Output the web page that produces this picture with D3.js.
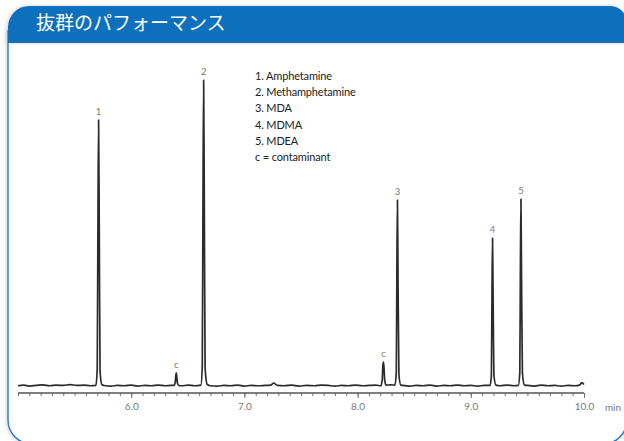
<!DOCTYPE html>
<html>
<head>
<meta charset="utf-8">
<script src="https://cdn.jsdelivr.net/npm/d3@7/dist/d3.min.js"></script>
<style>
  html, body { margin: 0; padding: 0; background: #ffffff; }
  svg { display: block; }
</style>
</head>
<body>
<svg id="chart" width="624" height="441"></svg>
<script>
// ---- Data ----------------------------------------------------------
const title = "抜群のパフォーマンス";

const legendItems = [
  "1. Amphetamine",
  "2. Methamphetamine",
  "3. MDA",
  "4. MDMA",
  "5. MDEA",
  "c = contaminant"
];

// Peak identities, retention times (min) and apex heights (relative signal)
const peakLabels = ["1", "c", "2", "c", "3", "4", "5"];
const peakTimes  = [5.712, 6.398, 6.640, 8.228, 8.352, 9.192, 9.443];
const peakHeights = [87.0, 4.6, 100, 8.1, 60.9, 48.5, 61.2];

// Baseline of the trace between peaks: [time (min), signal]
const baseline = [
  [5.00,0.4],[5.05,0.6],[5.10,0.3],[5.16,0.5],[5.22,0.7],[5.28,0.4],[5.34,0.6],
  [5.40,0.5],[5.46,0.8],[5.52,0.5],[5.58,0.6],[5.64,0.4],
  [5.76,0.5],[5.82,0.3],[5.88,0.5],[5.94,0.4],[6.00,0.6],[6.06,0.3],[6.12,0.5],
  [6.18,0.4],[6.24,0.6],[6.30,0.4],[6.35,0.5],
  [6.45,0.4],[6.50,0.6],[6.56,0.4],
  [6.70,0.4],[6.76,0.3],[6.82,0.5],[6.88,0.4],[6.94,0.6],[7.00,0.3],[7.06,0.5],
  [7.12,0.4],[7.18,0.5],[7.23,0.6],[7.26,1.3],[7.29,0.5],[7.35,0.4],[7.42,0.6],
  [7.48,0.3],[7.55,0.5],[7.62,0.4],[7.68,0.6],[7.74,0.5],[7.80,0.3],[7.86,0.5],
  [7.92,0.4],[7.98,0.6],[8.04,0.4],[8.10,0.5],[8.16,0.6],
  [8.29,0.7],
  [8.40,0.5],[8.46,0.3],[8.52,0.5],[8.58,0.4],[8.64,0.6],[8.70,0.3],[8.76,0.5],
  [8.82,0.4],[8.88,0.6],[8.94,0.4],[9.00,0.5],[9.06,0.3],[9.12,0.5],
  [9.26,0.4],[9.32,0.6],[9.38,0.4],
  [9.50,0.5],[9.56,0.3],[9.62,0.6],[9.68,0.4],[9.74,0.5],[9.80,0.3],[9.86,0.5],
  [9.92,0.4],[9.96,0.6],[9.98,1.4],[10.00,0.8]
];

// Sampled peak profiles: [time (min), signal]
const peakProfiles = [
  [[5.688,0.5],[5.700,6],[5.706,52],[5.712,87.0],[5.718,50],[5.725,5],[5.742,0.7]],
  [[6.378,0.5],[6.389,1.6],[6.394,3.8],[6.398,4.6],[6.402,3.6],[6.408,1.4],[6.420,0.5]],
  [[6.616,0.6],[6.628,7],[6.634,60],[6.640,100],[6.646,58],[6.653,6],[6.672,0.8]],
  [[8.206,0.4],[8.218,2.5],[8.223,6.8],[8.228,8.1],[8.233,6.5],[8.240,2.0],[8.252,0.6]],
  [[8.330,0.6],[8.342,5],[8.347,38],[8.352,60.9],[8.357,36],[8.365,4],[8.382,0.6]],
  [[9.170,0.5],[9.182,4],[9.187,30],[9.192,48.5],[9.197,29],[9.205,3.5],[9.222,0.6]],
  [[9.420,0.5],[9.433,5],[9.438,38],[9.443,61.2],[9.448,37],[9.456,4.5],[9.474,0.6]]
];

const majorTicks = [6.0, 7.0, 8.0, 9.0, 10.0];
const minorTicks = [
  5.0,5.1,5.2,5.3,5.4,5.5,5.6,5.7,5.8,5.9,
  6.0,6.1,6.2,6.3,6.4,6.5,6.6,6.7,6.8,6.9,
  7.0,7.1,7.2,7.3,7.4,7.5,7.6,7.7,7.8,7.9,
  8.0,8.1,8.2,8.3,8.4,8.5,8.6,8.7,8.8,8.9,
  9.0,9.1,9.2,9.3,9.4,9.5,9.6,9.7,9.8,9.9,10.0
];
const axisUnit = "min";

// ---- Drawing -------------------------------------------------------
const svg = d3.select("#chart");
const blue = "#0b6fbc";

const defs = svg.append("defs");
const shadow = defs.append("filter").attr("id", "panelShadow")
  .attr("x", "-5%").attr("y", "-5%").attr("width", "110%").attr("height", "110%");
shadow.append("feDropShadow")
  .attr("dx", -1).attr("dy", 0).attr("stdDeviation", 2)
  .attr("flood-color", "#9a9a9a").attr("flood-opacity", 0.45);

// Panel body (white, blue outline, rounded corners)
const panel = d3.path();
panel.moveTo(8, 30);
panel.lineTo(8, 420);
panel.arcTo(8, 444, 32, 444, 24);
panel.lineTo(603, 444);
panel.arcTo(627, 444, 627, 420, 24);
panel.lineTo(627, 30);
svg.append("path")
  .attr("d", panel.toString())
  .attr("fill", "#ffffff")
  .attr("stroke", "#1c78c4")
  .attr("stroke-width", 1.4)
  .attr("filter", "url(#panelShadow)");

// Header bar
const header = d3.path();
header.moveTo(8, 43);
header.lineTo(8, 27);
header.arcTo(8, 6, 29, 6, 21);
header.lineTo(610, 6);
header.arcTo(627, 6, 627, 23, 17);
header.lineTo(627, 43);
header.closePath();
svg.append("path")
  .attr("d", header.toString())
  .attr("fill", blue)
  .attr("filter", "url(#panelShadow)");

svg.append("text")
  .attr("x", 36).attr("y", 30)
  .attr("fill", "#ffffff")
  .attr("font-family", "'Noto Sans CJK JP', sans-serif")
  .attr("font-size", 19)
  .text(title);

// Scales
const x = d3.scaleLinear().domain([5.0, 10.0]).range([18, 584]);
const y = d3.scaleLinear().domain([0, 100]).range([387, 80]);

// Axis: minor ticks every 0.1 min, labelled majors every 1.0 min
const axisY = 393;
const minorAxis = d3.axisBottom(x).tickValues(minorTicks).tickSize(3).tickFormat("");
const majorAxis = d3.axisBottom(x).tickValues(majorTicks).tickSize(5).tickPadding(5)
  .tickFormat(d3.format(".1f"));

const gMinor = svg.append("g").attr("transform", `translate(0,${axisY})`).call(minorAxis);
const gMajor = svg.append("g").attr("transform", `translate(0,${axisY})`).call(majorAxis);
[gMinor, gMajor].forEach(g => {
  g.select(".domain").attr("stroke", "#555").attr("stroke-width", 1)
    .attr("d", `M${x(5)},0H${x(10)}`);
  g.selectAll(".tick line").attr("stroke", "#666").attr("stroke-width", 0.9);
});
gMajor.selectAll(".tick text")
  .attr("fill", "#7a7a7a")
  .attr("font-family", "Lato, 'Open Sans', sans-serif")
  .attr("font-size", 10);

svg.append("text")
  .attr("x", 613).attr("y", axisY + 18)
  .attr("text-anchor", "middle")
  .attr("fill", "#7a7a7a")
  .attr("font-family", "Lato, 'Open Sans', sans-serif")
  .attr("font-size", 10)
  .text(axisUnit);

// Chromatogram trace: baseline and peak profiles merged in time order
const trace = baseline.concat(...peakProfiles).sort((a, b) => a[0] - b[0]);
const line = d3.line()
  .x(d => x(d[0]))
  .y(d => y(d[1]))
  .curve(d3.curveMonotoneX);

svg.append("path")
  .datum(trace)
  .attr("d", line)
  .attr("fill", "none")
  .attr("stroke", "#2b2b2b")
  .attr("stroke-width", 1.7)
  .attr("stroke-linejoin", "round");

// Peak labels above each apex
svg.append("g").selectAll("text")
  .data(peakLabels.map((lab, i) => ({ lab, t: peakTimes[i], h: peakHeights[i] })))
  .join("text")
  .attr("x", d => x(d.t))
  .attr("y", d => y(d.h) - 5)
  .attr("text-anchor", "middle")
  .attr("fill", "#777777")
  .attr("font-family", "Lato, 'Open Sans', sans-serif")
  .attr("font-size", 9.5)
  .text(d => d.lab);

// Compound key
svg.append("g").selectAll("text")
  .data(legendItems)
  .join("text")
  .attr("x", 255)
  .attr("y", (d, i) => 80 + i * 16.2)
  .attr("fill", "#222")
  .attr("font-family", "Lato, 'Open Sans', sans-serif")
  .attr("font-size", 11)
  .attr("letter-spacing", -0.15)
  .text(d => d);
</script>
</body>
</html>
